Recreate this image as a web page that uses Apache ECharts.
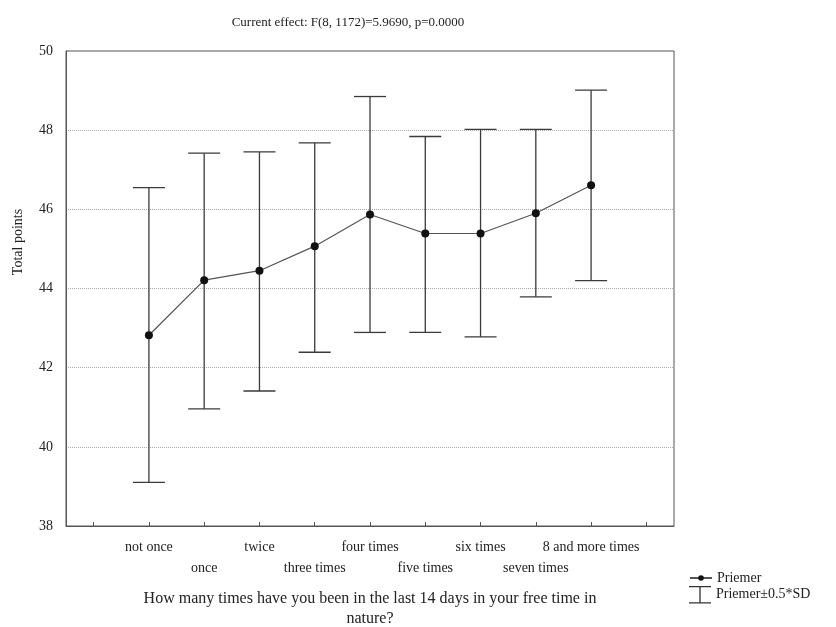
<!DOCTYPE html>
<html><head><meta charset="utf-8">
<script src="https://cdn.jsdelivr.net/npm/echarts@6/dist/echarts.min.js"></script>
<style>html,body{margin:0;padding:0;background:#fff}#c{width:836px;height:627px}</style>
</head><body><div id="c"></div>
<script>
const categories = ['not once','once','twice','three times','four times','five times','six times','seven times','8 and more times'];
const means = [42.82, 44.21, 44.45, 45.07, 45.87, 45.39, 45.39, 45.90, 46.61];
const upper = [46.55, 47.42, 47.45, 47.68, 48.85, 47.84, 48.02, 48.02, 49.01];
const lower = [39.10, 40.96, 41.41, 42.39, 42.89, 42.89, 42.78, 43.79, 44.20];
const yTicks = [38, 40, 42, 44, 46, 48, 50];
const titleText = 'Current effect: F(8, 1172)=5.9690, p=0.0000';
const xName = 'How many times have you been in the last 14 days in your free time in\nnature?';
const yName = 'Total points';

const FONT = 'Liberation Serif';
const axisCats = [''].concat(categories, ['']);
const meanData = [null].concat(means, [null]);
const errData = categories.map((c, i) => [i + 1, lower[i], upper[i]]);

const chart = echarts.init(document.getElementById('c'));
chart.setOption({
  animation: false,
  backgroundColor: '#fff',
  title: {
    text: titleText, left: 343, top: 11, textAlign: 'center',
    textStyle: {fontFamily: FONT, fontSize: 13, fontWeight: 'normal', color: '#222'}
  },
  grid: {left: 66, right: 162, top: 51, bottom: 101, show: true, borderColor: '#555', borderWidth: 1,
    containLabel: false, outerBoundsMode: 'none'},
  legend: [{
    orient: 'vertical', left: 684, top: 566, itemWidth: 22, itemHeight: 7,
    textStyle: {fontFamily: FONT, fontSize: 14, color: '#222'},
    data: [{name: 'Priemer'}]
  }, {
    orient: 'vertical', left: 684, top: 581, itemWidth: 22, itemHeight: 19,
    textStyle: {fontFamily: FONT, fontSize: 14, color: '#222', padding: [0, 0, 6, 0]},
    data: [{name: 'Priemer±0.5*SD', icon: 'path://M0,0h20v1.2h-20z M9.4,0h1.2v16h-1.2z M0,14.8h20v1.2h-20z', itemStyle: {color: '#333'}}]
  }],
  xAxis: {
    type: 'category', data: axisCats, boundaryGap: true,
    axisLine: {show: true, lineStyle: {color: '#555'}},
    axisTick: {show: true, inside: true, alignWithLabel: true, interval: 0, length: 4, lineStyle: {color: '#555'}},
    axisLabel: {
      interval: 0, margin: 11, fontFamily: FONT, fontSize: 14, color: '#222', lineHeight: 21,
      formatter: (v, i) => (i % 2 === 0 ? '\n' + v : v)
    },
    splitLine: {show: false},
    name: xName, nameLocation: 'middle', nameGap: 63,
    nameTextStyle: {fontFamily: FONT, fontSize: 16, color: '#222', lineHeight: 20}
  },
  yAxis: {
    type: 'value', min: yTicks[0], max: yTicks[yTicks.length - 1], interval: 2,
    axisLine: {show: true, lineStyle: {color: '#555'}},
    axisTick: {show: false},
    axisLabel: {margin: 13, fontFamily: FONT, fontSize: 14, color: '#222'},
    splitLine: {show: true, lineStyle: {color: '#aaa', type: [1, 1], width: 1}}
  },
  graphic: [{
    type: 'text', x: 18, y: 242, rotation: Math.PI / 2,
    style: {text: yName, fontFamily: FONT, fontSize: 14, fill: '#222', align: 'center', verticalAlign: 'middle'}
  }],
  series: [
    {
      name: 'Priemer±0.5*SD', type: 'custom', data: errData, z: 2,
      itemStyle: {color: '#333'},
      renderItem: function (params, api) {
        const x = api.value(0);
        const lo = api.coord([x, api.value(1)]);
        const hi = api.coord([x, api.value(2)]);
        const hw = 16;
        const st = {stroke: '#3a3a3a', lineWidth: 1.3};
        return {type: 'group', children: [
          {type: 'line', shape: {x1: lo[0], y1: lo[1], x2: hi[0], y2: hi[1]}, style: st},
          {type: 'line', shape: {x1: hi[0] - hw, y1: hi[1], x2: hi[0] + hw, y2: hi[1]}, style: st},
          {type: 'line', shape: {x1: lo[0] - hw, y1: lo[1], x2: lo[0] + hw, y2: lo[1]}, style: st}
        ]};
      }
    },
    {
      name: 'Priemer', type: 'line', data: meanData, z: 3,
      symbol: 'circle', symbolSize: 8, connectNulls: false,
      lineStyle: {color: '#555', width: 1.2},
      itemStyle: {color: '#111'}
    }
  ]
});
</script></body></html>
